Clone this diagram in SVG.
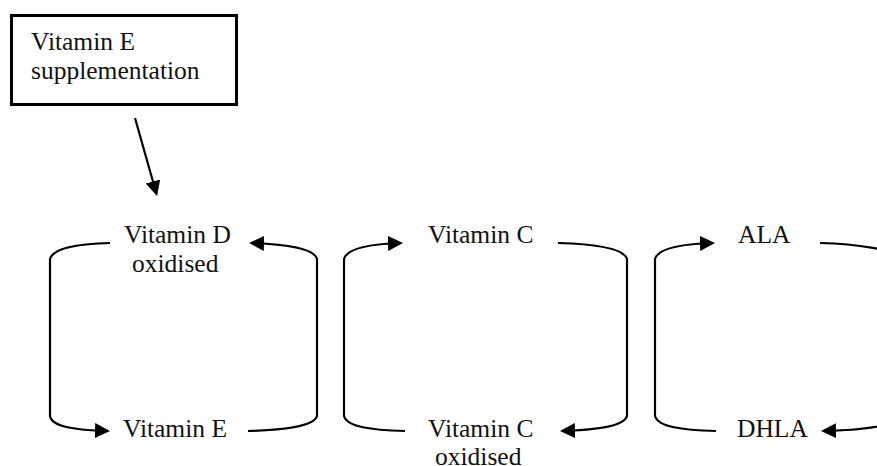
<svg xmlns="http://www.w3.org/2000/svg" width="877" height="466" viewBox="0 0 877 466">
  <defs>
    <style>
      text { font-family: "Liberation Serif", "Times New Roman", serif; font-size: 25.5px; fill: #111; }
      .conn { fill: none; stroke: #000; stroke-width: 2.2; }
      .box { fill: #fff; stroke: #000; stroke-width: 3; }
    </style>
    <marker id="arr" markerUnits="userSpaceOnUse" markerWidth="16" markerHeight="16" viewBox="0 0 16 16" refX="13" refY="7.5" orient="auto">
      <path d="M0,0 L15,7.5 L0,15 z" fill="#000"/>
    </marker>
  </defs>
  <rect width="877" height="466" fill="#fff"/>

  <g id="supplementation">
    <rect class="box" x="11.5" y="15.5" width="225" height="89"/>
    <text x="31" y="50">Vitamin E</text>
    <text x="31" y="79">supplementation</text>
  </g>

  <g id="vitd-oxidised">
    <text x="124" y="243">Vitamin D</text>
    <text x="132" y="272">oxidised</text>
  </g>
  <g id="vite">
    <text x="123" y="437">Vitamin E</text>
  </g>
  <g id="vitc">
    <text x="428" y="243">Vitamin C</text>
  </g>
  <g id="vitc-oxidised">
    <text x="428" y="437">Vitamin C</text>
    <text x="435" y="464.5">oxidised</text>
  </g>
  <g id="ala">
    <text x="738" y="243">ALA</text>
  </g>
  <g id="dhla">
    <text x="737" y="437">DHLA</text>
  </g>

  <g id="connectors">
    <path class="conn" marker-end="url(#arr)" d="M135,118 L156.5,194"/>

    <path class="conn" marker-end="url(#arr)" d="M110,243 C76,244 53,248 50,259 L50,416 C52,427 75,430 108,431"/>
    <path class="conn" marker-end="url(#arr)" d="M248,431 C282,430 314,427 317,416 L317,259 C314,248 283,244 251,243"/>

    <path class="conn" marker-end="url(#arr)" d="M405,431 C371,430 347,427 344,416 L344,259 C347,248 370,244 401,243"/>
    <path class="conn" marker-end="url(#arr)" d="M558,243 C592,244 624,248 627,259 L627,416 C624,427 594,430 562,431"/>

    <path class="conn" marker-end="url(#arr)" d="M716,431 C682,430 658,427 655,416 L655,259 C658,248 681,244 713,243"/>
    <path class="conn" marker-end="url(#arr)" d="M820,243 C855,244 895,249 900,259 L900,416 C895,427 860,430 823,431"/>
  </g>
</svg>
